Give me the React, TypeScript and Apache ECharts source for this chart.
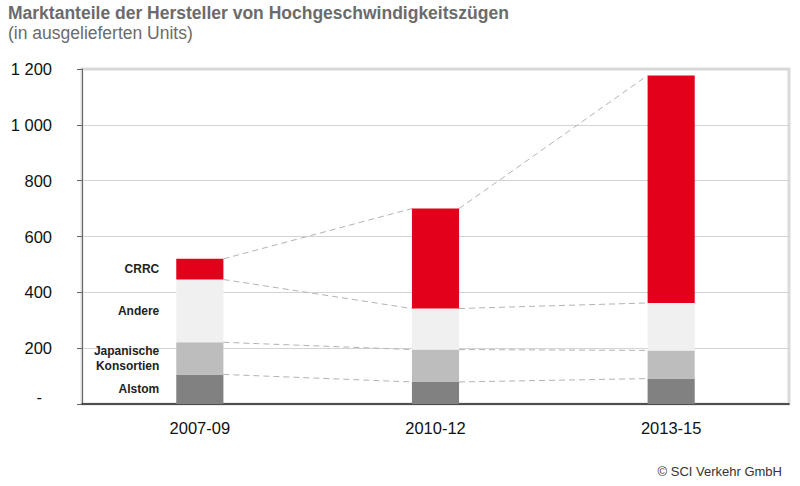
import React, { useEffect, useRef } from "react";
import * as echarts from "echarts";

const categories = ["2007-09", "2010-12", "2013-15"];
const seriesNames = ["Alstom", "Japanische\nKonsortien", "Andere", "CRRC"];
const alstom = [106, 79, 91];
const japan = [115, 116, 101];
const andere = [225, 147, 170];
const crrc = [74, 358, 815];
const yTicks = [0, 200, 400, 600, 800, 1000, 1200];

const FONT = "'Liberation Sans', Arial, Helvetica, sans-serif";
const colors = ["#818181", "#bdbdbd", "#f0f0f0", "#e2001a"];

export default function App() {
  const ref = useRef<HTMLDivElement>(null);
  useEffect(() => {
    if (!ref.current) return;
    const chart = echarts.init(ref.current, undefined, { renderer: "svg" });
    const values = [alstom, japan, andere, crrc];
    const cum: number[][] = [];
    values.forEach((arr, lvl) => {
      cum.push(arr.map((v, i) => v + (lvl > 0 ? cum[lvl - 1][i] : 0)));
    });
    const connData: number[][] = [];
    for (let i = 0; i < categories.length - 1; i++) {
      for (let lvl = 0; lvl < cum.length; lvl++) {
        connData.push([i, cum[lvl][i], cum[lvl][i + 1]]);
      }
    }
    const fmt = (v: number) =>
      v === 0 ? "{z|-}" : String(v).replace(/\B(?=(\d{3})+(?!\d))/g, " ");

    const barSeries = values.map((arr, lvl) => ({
      type: "bar",
      name: seriesNames[lvl],
      stack: "total",
      barWidth: "20%",
      itemStyle: { color: colors[lvl] },
      data: arr.map((v, i) =>
        i === 0
          ? {
              value: v,
              label: {
                show: true,
                position: "left",
                distance: 17,
                formatter: seriesNames[lvl],
                color: "#222",
                fontFamily: FONT,
                fontSize: 12,
                fontWeight: "bold",
                lineHeight: 15,
                align: "right",
              },
            }
          : v
      ),
    }));

    chart.setOption({
      animation: false,
      grid: {
        left: 82,
        right: 11,
        top: 69,
        bottom: 82,
        show: true,
        borderColor: "#dadada",
        borderWidth: 3,
        backgroundColor: "transparent",
      },
      xAxis: {
        type: "category",
        data: categories,
        axisLine: { lineStyle: { color: "#222", width: 1.5 } },
        axisTick: { show: false },
        axisLabel: { color: "#111", fontFamily: FONT, fontSize: 16.5, margin: 15 },
      },
      yAxis: {
        type: "value",
        min: 0,
        max: 1200,
        interval: 200,
        axisLine: { show: true, lineStyle: { color: "#666", width: 1 } },
        axisTick: { show: true, length: 5, lineStyle: { color: "#666" } },
        splitLine: { lineStyle: { color: "#d4d4d4", width: 1 } },
        axisLabel: {
          color: "#111",
          fontFamily: FONT,
          fontSize: 16.5,
          margin: 30,
          formatter: (v: number) => (yTicks.includes(v) ? fmt(v) : ""),
          rich: { z: { fontFamily: FONT, fontSize: 16.5, color: "#111", padding: [0, 10, 14, 0] } },
        },
      },
      graphic: [
        {
          type: "text",
          x: 8,
          y: 13,
          style: {
            text: "Marktanteile der Hersteller von Hochgeschwindigkeitszügen",
            font: `bold 17.5px ${FONT}`,
            fill: "#6b6b6b",
            verticalAlign: "middle",
          },
        },
        {
          type: "text",
          x: 8,
          y: 33,
          style: {
            text: "(in ausgelieferten Units)",
            font: `17.5px ${FONT}`,
            fill: "#6b6b6b",
            verticalAlign: "middle",
          },
        },
        {
          type: "text",
          x: 782,
          y: 471,
          style: {
            text: "© SCI Verkehr GmbH",
            font: `13px ${FONT}`,
            fill: "#333",
            align: "right",
            verticalAlign: "middle",
          },
        },
      ],
      series: [
        ...barSeries,
        {
          type: "custom",
          silent: true,
          encode: { x: 0, y: [1, 2] },
          data: connData,
          z: 3,
          renderItem: (params: any, api: any) => {
            const i = api.value(0);
            const a = api.coord([i, api.value(1)]);
            const b = api.coord([i + 1, api.value(2)]);
            const half = api.size([1, 0])[0] * 0.1;
            return {
              type: "line",
              shape: { x1: a[0] + half, y1: a[1], x2: b[0] - half, y2: b[1] },
              style: { stroke: "#b3b3b3", lineWidth: 1, lineDash: [6, 4] },
            };
          },
        },
      ],
    });
    return () => chart.dispose();
  }, []);
  return (
    <div
      ref={ref}
      style={{ position: "fixed", left: 0, top: 0, width: 800, height: 486, background: "#fff" }}
    />
  );
}
